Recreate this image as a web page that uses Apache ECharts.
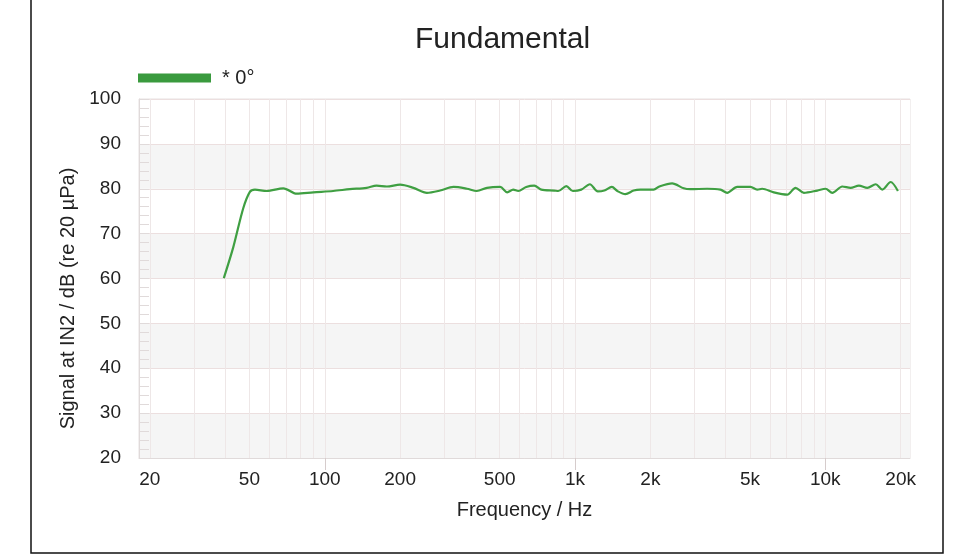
<!DOCTYPE html>
<html>
<head>
<meta charset="utf-8">
<title>Fundamental</title>
<script src="https://cdn.jsdelivr.net/npm/echarts@6/dist/echarts.min.js"></script>
<style>
  html, body { margin: 0; padding: 0; background: #fff; }
  #chart { width: 974px; height: 556px; }
</style>
</head>
<body>
<div id="chart"></div>
<script>
var freqHz = [39.5, 43.1, 47.2, 50.2, 52.6, 58.6, 68.3, 77.2, 90, 108, 126, 147, 161, 177, 200,
  226, 256, 289, 327, 370, 405, 445, 502, 536, 566, 593, 638, 687, 733, 826, 857, 923, 980,
  1059, 1146, 1233, 1309, 1403, 1476, 1589, 1715, 1824, 2061, 2173, 2443, 2718, 2891, 3372,
  3811, 4054, 4446, 5024, 5344, 5596, 6226, 7045, 7604, 8210, 9288, 10024, 10664, 11692,
  12619, 13624, 14720, 15887, 16902, 18240, 19508];
var levelDb = [60.1, 67.0, 75.6, 79.3, 79.8, 79.5, 80.1, 78.9, 79.2, 79.5, 79.9, 80.2, 80.7, 80.5, 80.9,
  80.2, 79.1, 79.6, 80.4, 80.0, 79.5, 80.2, 80.4, 79.2, 79.8, 79.5, 80.4, 80.7, 79.8, 79.6, 79.5, 80.6, 79.5,
  79.8, 81.0, 79.4, 79.6, 80.4, 79.5, 78.8, 79.6, 79.8, 79.8, 80.5, 81.2, 80.1, 79.9, 80.0,
  79.8, 79.1, 80.4, 80.4, 79.8, 80.0, 79.2, 78.7, 80.2, 79.1, 79.6, 80.0, 79.1, 80.5,
  80.2, 80.7, 80.2, 81.0, 79.8, 81.5, 79.5];

var seriesName = '* 0°';
var labelFreqs = [20, 50, 100, 200, 500, 1000, 2000, 5000, 10000, 20000];
var gridFreqs = [20, 30, 40, 50, 60, 70, 80, 90, 100, 200, 300, 400, 500, 600, 700, 800, 900,
  1000, 2000, 3000, 4000, 5000, 6000, 7000, 8000, 9000, 10000, 20000];
var decadeFreqs = [100, 1000, 10000];
var freqMin = 18.1;
var freqMax = 21800;

var lg = function (v) { return Math.log10(v); };

var chart = echarts.init(document.getElementById('chart'));

var option = {
  backgroundColor: '#ffffff',
  animation: false,
  textStyle: { fontFamily: 'Liberation Sans, Arial, sans-serif' },
  title: {
    text: 'Fundamental',
    left: 410,
    top: 20,
    textStyle: { fontSize: 30, fontWeight: 'normal', color: '#222' }
  },
  legend: {
    left: 133,
    top: 63,
    itemWidth: 73,
    itemHeight: 9,
    icon: 'rect',
    textStyle: { fontSize: 20, color: '#222', padding: [0, 0, 0, 6] },
    data: [seriesName]
  },
  grid: {
    left: 139,
    right: 64,
    top: 99,
    bottom: 98,
    show: true,
    borderColor: '#e6e0e0',
    borderWidth: 1
  },
  xAxis: [{
    type: 'value',
    min: lg(freqMin),
    max: lg(freqMax),
    name: 'Frequency / Hz',
    nameLocation: 'middle',
    nameGap: 42,
    nameTextStyle: { fontSize: 20, color: '#222' },
    axisLine: { show: true, lineStyle: { color: '#e0dada' } },
    axisTick: { show: false, customValues: gridFreqs.map(lg) },
    axisLabel: {
      customValues: labelFreqs.map(lg),
      fontSize: 19,
      color: '#222',
      margin: 12,
      formatter: function (v) {
        var f = Math.round(Math.pow(10, v));
        return f >= 1000 ? (f / 1000) + 'k' : String(f);
      }
    },
    splitLine: { show: true, lineStyle: { color: '#eee7e7', width: 1 } }
  }, {
    // decade ticks hanging below the plot
    type: 'value',
    position: 'bottom',
    min: lg(freqMin),
    max: lg(freqMax),
    axisLine: { show: false },
    axisTick: { show: true, length: 12, customValues: decadeFreqs.map(lg), lineStyle: { color: '#d6cccc' } },
    axisLabel: { show: false },
    splitLine: { show: false }
  }],
  yAxis: {
    type: 'value',
    min: 20,
    max: 100,
    interval: 10,
    name: 'Signal at IN2 / dB (re 20 µPa)',
    nameLocation: 'middle',
    nameGap: 60,
    nameTextStyle: { fontSize: 20, color: '#222', padding: [0, 40, 0, 0] },
    axisLine: { show: true, lineStyle: { color: '#e0dada' } },
    axisTick: { show: true, inside: true, length: 10, lineStyle: { color: '#e0dada' } },
    minorTick: { show: true, splitNumber: 5, length: 10, lineStyle: { color: '#e0dada' } },
    axisLabel: { fontSize: 19, color: '#222', margin: 18 },
    splitLine: { show: true, lineStyle: { color: '#ecdfdf' } },
    splitArea: { show: true, areaStyle: { color: ['#f5f5f5', '#ffffff'] } }
  },
  graphic: [
    {
      type: 'rect',
      shape: { x: 31, y: -5, width: 912, height: 558 },
      style: { fill: 'none', stroke: '#111', lineWidth: 1.5 },
      silent: true
    },
    {
      type: 'text',
      left: 876,
      top: 106,
      style: { text: 'KLIPPEL', fontSize: 6, fill: '#4f74a8', fontWeight: 'bold' },
      silent: true
    }
  ],
  series: [{
    name: seriesName,
    type: 'line',
    data: freqHz.map(function (f, i) { return [lg(f), levelDb[i]]; }),
    showSymbol: false,
    smooth: 0.3,
    color: '#3a9a3e',
    lineStyle: { width: 2.2, color: '#3f9f42' }
  }]
};

chart.setOption(option);
</script>
</body>
</html>
